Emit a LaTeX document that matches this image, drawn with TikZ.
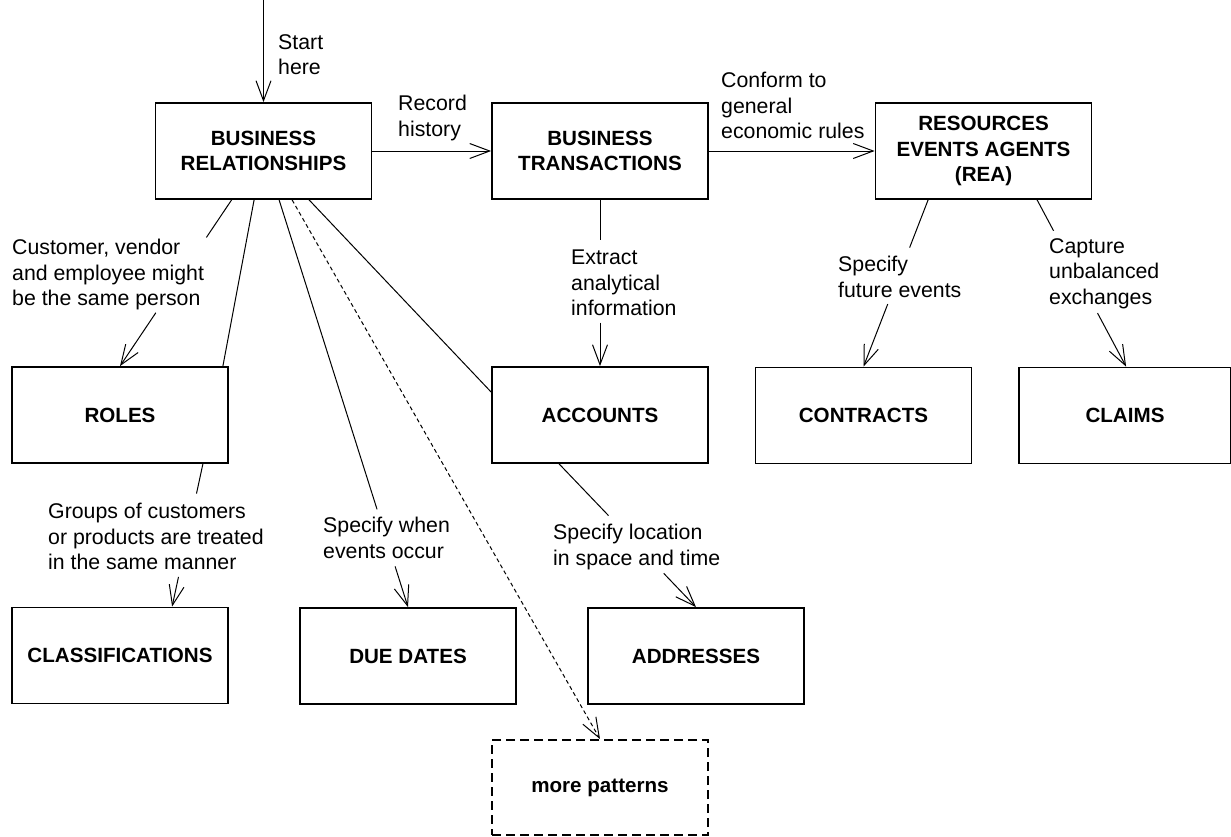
\documentclass[tikz,border=0pt]{standalone}
\usepackage{fontspec}
\setmainfont{Liberation Sans}
\usetikzlibrary{arrows.meta,calc}

\begin{document}
\begin{tikzpicture}[x=1pt,y=-1pt,
  box/.style={draw,line width=1.8pt,minimum width=216pt,minimum height=96pt,
    inner sep=0pt,align=center,font=\fontsize{20.6}{25.5}\selectfont\bfseries},
  dashbox/.style={dash pattern=on 9pt off 5pt},
  lbl/.style={anchor=north west,inner sep=0pt,align=left,
    font=\fontsize{21.3}{25.5}\selectfont},
  conn/.style={line width=1pt},
  arr/.style={conn,-{Straight Barb[length=20pt,width=15pt]}},
  dotted link/.style={dash pattern=on 4pt off 3pt},
]
\useasboundingbox (0,0) rectangle (1231,836);

% pattern boxes
\node[box] (br)    at (263.5,151)   {BUSINESS\\RELATIONSHIPS};
\node[box] (bt)    at (600,151)     {BUSINESS\\TRANSACTIONS};
\node[box] (rea)   at (983.5,151)   {RESOURCES\\EVENTS AGENTS\\(REA)};
\node[box] (roles) at (120,415)     {ROLES};
\node[box] (acc)   at (600,415)     {ACCOUNTS};
\node[box] (con)   at (863.5,415.5) {CONTRACTS};
\node[box,minimum width=212pt] (cla) at (1125,415.5) {CLAIMS};
\node[box] (cls)   at (120,655.5)   {CLASSIFICATIONS};
\node[box] (due)   at (408,656)     {DUE DATES};
\node[box] (addr)  at (696,656)     {ADDRESSES};
\node[box,dashbox,minimum height=95pt] (more) at (600,787.5) {more patterns};

% labels
\node[lbl] (l-start) at (278,34)   {Start\\here};
\node[lbl] (l-rec)   at (398,95)   {Record\\history};
\node[lbl] (l-conf)  at (721,72)   {Conform to\\general\\economic rules};
\node[lbl] (l-ext)   at (571,250)  {Extract\\analytical\\information};
\node[lbl] (l-cust)  at (12,239)   {Customer, vendor\\and employee might\\be the same person};
\node[lbl] (l-grp)   at (48,503)   {Groups of customers\\or products are treated\\in the same manner};
\node[lbl] (l-when)  at (323,517)  {Specify when\\events occur};
\node[lbl] (l-loc)   at (553,524)  {Specify location\\in space and time};
\node[lbl] (l-fut)   at (838,256)  {Specify\\future events};
\node[lbl] (l-cap)   at (1049,238) {Capture\\unbalanced\\exchanges};

% entry point
\coordinate (entry) at (263.5,0);
\draw[arr] (entry) -- (br.north);

% top row
\draw[arr] (br) -- (bt);
\draw[arr] (bt) -- (rea);

% connector start/end points on the box edges
\coordinate (s-cust) at ($(br.south west)+(77,0)$);
\coordinate (s-role) at ($(br.south west)+(99.5,0)$);
\coordinate (s-due)  at ($(br.south west)+(124.5,0)$);
\coordinate (s-more) at ($(br.south west)+(137.5,0)$);
\coordinate (s-acc)  at ($(br.south west)+(154.5,0)$);
\coordinate (s-cls)  at ($(roles.south east)+(-26,0)$);
\coordinate (e-cls)  at ($(cls.north west)+(161,0)$);
\coordinate (s-con)  at ($(rea.south west)+(53.5,0)$);
\coordinate (s-cla)  at ($(rea.south west)+(162.5,0)$);
\coordinate (e-cla)  at ($(cla.north west)+(108,0)$);
\coordinate (s-addr) at ($(acc.south west)+(68,0)$);

% business relationships -> roles (labelled)
\draw[conn] (s-cust) -- ($(s-cust)!0.226!(roles.north)$);
\draw[arr] ($(s-cust)!0.679!(roles.north)$) -- (roles.north);
% business relationships -> roles (plain)
\draw[conn] (s-role) -- ($(roles.north east)+(-6,0)$);
% business relationships -> due dates
\draw[conn] (s-due) -- ($(s-due)!0.76!(due.north)$);
\draw[arr] ($(s-due)!0.90!(due.north)$) -- (due.north);
% business relationships -> more patterns
\draw[arr,dotted link] (s-more) -- (more.north);
% business relationships -> accounts
\draw[conn] (s-acc) -- ($(acc.west)+(0,-23)$);

% business transactions -> accounts
\draw[conn] (bt.south) -- ($(bt.south)!0.244!(acc.north)$);
\draw[arr] ($(bt.south)!0.738!(acc.north)$) -- (acc.north);

% roles -> classifications
\draw[conn] (s-cls) -- ($(s-cls)!0.208!(e-cls)$);
\draw[arr] ($(s-cls)!0.792!(e-cls)$) -- (e-cls);

% REA -> contracts
\draw[conn] (s-con) -- ($(s-con)!0.286!(con.north)$);
\draw[arr] ($(s-con)!0.625!(con.north)$) -- (con.north);

% REA -> claims
\draw[conn] (s-cla) -- ($(s-cla)!0.185!(e-cla)$);
\draw[arr] ($(s-cla)!0.679!(e-cla)$) -- (e-cla);

% accounts -> addresses
\draw[conn] (s-addr) -- ($(s-addr)!0.361!(addr.north)$);
\draw[arr] ($(s-addr)!0.764!(addr.north)$) -- (addr.north);
\end{tikzpicture}
\end{document}
